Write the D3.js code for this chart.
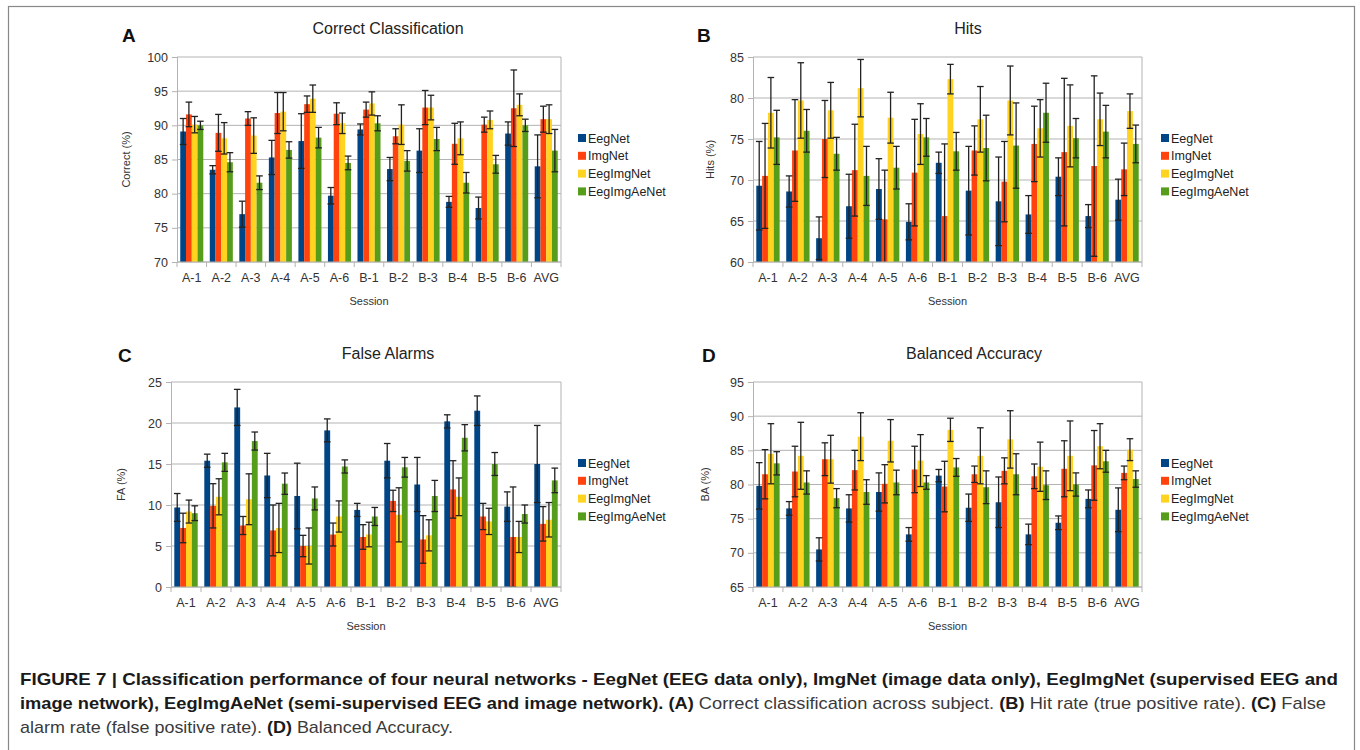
<!DOCTYPE html>
<html>
<head>
<meta charset="utf-8">
<script src="https://cdn.jsdelivr.net/npm/d3@7"></script>
<style>
  body { margin: 0; background: #fff; }
  svg { display: block; font-family: "Liberation Sans", Arial, sans-serif; }
</style>
</head>
<body>
<svg id="fig" width="1360" height="750"></svg>
<script>
// sessions and series
var sessions = ['A-1','A-2','A-3','A-4','A-5','A-6','B-1','B-2','B-3','B-4','B-5','B-6','AVG'];
var seriesNames = ['EegNet','ImgNet','EegImgNet','EegImgAeNet'];
var seriesColors = ['#004586','#ff420e','#ffd320','#579d1c'];

// (A) correct classification, mean and error
var correctEegNet      = [89.1, 83.5, 77.0, 85.3, 87.7, 79.7, 89.4, 83.6, 86.3, 78.8, 77.9, 88.8, 84.0];
var correctEegNetErr   = [1.9, 0.6, 1.9, 2.5, 4.0, 1.2, 0.8, 1.7, 3.2, 0.8, 1.6, 1.7, 4.6];
var correctImgNet      = [91.6, 88.9, 91.0, 91.8, 93.1, 91.7, 92.3, 88.4, 92.6, 87.3, 90.1, 92.5, 90.9];
var correctImgNetErr   = [1.8, 2.7, 1.0, 3.0, 1.2, 1.6, 1.1, 1.1, 2.5, 3.0, 1.1, 5.6, 1.9];
var correctEegImg      = [90.1, 88.1, 88.5, 92.0, 93.9, 90.3, 93.2, 90.1, 92.6, 88.1, 90.8, 93.0, 90.9];
var correctEegImgErr   = [1.2, 2.3, 2.6, 2.8, 2.0, 1.5, 1.7, 2.9, 1.8, 2.4, 1.3, 1.6, 2.1];
var correctEegImgAe    = [90.0, 84.6, 81.6, 86.4, 88.2, 84.5, 90.3, 84.8, 88.0, 81.6, 84.3, 90.0, 86.3];
var correctEegImgAeErr = [0.6, 1.4, 1.0, 1.2, 1.5, 1.0, 1.1, 1.5, 1.7, 1.5, 1.3, 0.9, 3.1];

// (B) hits
var hitsEegNet      = [69.3, 68.6, 62.9, 66.8, 68.9, 64.9, 72.1, 68.7, 67.4, 65.8, 70.4, 65.6, 67.6];
var hitsEegNetErr   = [5.4, 1.9, 2.6, 3.9, 3.7, 2.2, 1.3, 5.4, 5.4, 2.3, 2.3, 1.4, 2.5];
var hitsImgNet      = [70.5, 73.6, 75.0, 71.2, 65.2, 70.9, 65.6, 73.6, 69.8, 74.4, 73.4, 71.7, 71.3];
var hitsImgNetErr   = [6.4, 6.2, 4.7, 5.6, 6.0, 6.5, 8.8, 3.0, 4.9, 4.6, 9.0, 11.0, 3.2];
var hitsEegImg      = [78.2, 79.7, 78.5, 81.2, 77.6, 75.6, 82.3, 77.4, 79.7, 76.3, 76.6, 77.4, 78.4];
var hitsEegImgErr   = [4.3, 4.6, 3.4, 3.5, 3.1, 3.7, 1.8, 4.0, 4.2, 3.5, 5.0, 3.2, 2.1];
var hitsEegImgAe    = [75.2, 76.0, 73.2, 70.5, 71.5, 75.2, 73.5, 73.9, 74.2, 78.2, 75.1, 75.9, 74.4];
var hitsEegImgAeErr = [3.3, 2.6, 2.0, 3.6, 2.6, 2.3, 2.3, 4.0, 5.2, 3.6, 2.4, 3.2, 2.3];

// (C) false alarms
var faEegNet      = [9.7, 15.4, 21.9, 13.6, 11.1, 19.1, 9.4, 15.4, 12.5, 20.2, 21.5, 9.8, 15.0];
var faEegNetErr   = [1.7, 0.8, 2.2, 2.7, 4.0, 1.4, 0.8, 2.1, 3.3, 0.8, 1.8, 1.8, 4.7];
var faImgNet      = [7.2, 9.9, 7.5, 6.9, 5.0, 6.4, 6.1, 10.5, 5.8, 11.9, 8.6, 6.1, 7.7];
var faImgNetErr   = [1.8, 2.7, 1.1, 3.1, 1.3, 1.4, 1.5, 1.3, 2.9, 3.5, 1.6, 6.1, 2.1];
var faEegImg      = [9.2, 11.0, 10.7, 7.2, 5.0, 8.6, 6.4, 8.8, 6.3, 11.0, 8.0, 6.1, 8.2];
var faEegImgErr   = [1.4, 2.2, 3.1, 3.0, 2.2, 1.9, 1.5, 3.3, 1.9, 2.3, 1.6, 1.9, 2.1];
var faEegImgAe    = [9.0, 15.2, 17.8, 12.6, 10.8, 14.7, 8.6, 14.6, 11.1, 18.2, 15.0, 8.9, 13.0];
var faEegImgAeErr = [0.9, 1.1, 1.1, 1.3, 1.4, 0.8, 1.1, 1.2, 1.9, 1.6, 1.4, 1.1, 1.5];

// (D) balanced accuracy
var baEegNet      = [79.8, 76.5, 70.5, 76.5, 78.9, 72.7, 81.3, 76.6, 77.4, 72.7, 74.4, 77.9, 76.3];
var baEegNetErr   = [3.4, 1.0, 1.7, 2.0, 2.8, 1.0, 0.9, 2.0, 3.7, 1.5, 1.0, 1.3, 3.2];
var baImgNet      = [81.5, 81.9, 83.7, 82.1, 80.1, 82.2, 79.7, 81.5, 82.0, 81.2, 82.3, 82.8, 81.7];
var baImgNetErr   = [3.6, 3.7, 2.4, 2.9, 2.8, 3.4, 3.7, 1.2, 1.9, 1.8, 4.1, 5.1, 1.0];
var baEegImg      = [84.5, 84.2, 83.7, 87.0, 86.4, 83.5, 88.0, 84.2, 86.6, 82.6, 84.2, 85.6, 85.1];
var baEegImgErr   = [4.4, 4.9, 3.5, 3.5, 3.1, 3.8, 1.7, 4.1, 4.2, 3.6, 5.1, 3.3, 1.6];
var baEegImgAe    = [83.1, 80.3, 78.0, 78.9, 80.3, 80.3, 82.5, 79.6, 81.5, 79.9, 80.0, 83.4, 80.8];
var baEegImgAeErr = [1.7, 1.7, 1.4, 1.8, 1.8, 1.0, 1.3, 2.4, 3.0, 2.1, 1.7, 1.6, 1.2];

// panel layout
var panels = [
  { letter:'A', title:'Correct Classification', ylabel:'Correct (%)', domain:[70,100], step:5,
    x0:177, x1:561, y0:57, y1:262, titleX:388, titleY:34, letterX:122, letterY:42, ylabX:130, legX:578, legY:138,
    means:[correctEegNet, correctImgNet, correctEegImg, correctEegImgAe],
    errs:[correctEegNetErr, correctImgNetErr, correctEegImgErr, correctEegImgAeErr] },
  { letter:'B', title:'Hits', ylabel:'Hits (%)', domain:[60,85], step:5,
    x0:753, x1:1142, y0:57, y1:262, titleX:968, titleY:34, letterX:697, letterY:42, ylabX:714, legX:1161, legY:138,
    means:[hitsEegNet, hitsImgNet, hitsEegImg, hitsEegImgAe],
    errs:[hitsEegNetErr, hitsImgNetErr, hitsEegImgErr, hitsEegImgAeErr] },
  { letter:'C', title:'False Alarms', ylabel:'FA (%)', domain:[0,25], step:5,
    x0:171, x1:561, y0:382, y1:587, titleX:388, titleY:359, letterX:118, letterY:362, ylabX:125, legX:578, legY:463,
    means:[faEegNet, faImgNet, faEegImg, faEegImgAe],
    errs:[faEegNetErr, faImgNetErr, faEegImgErr, faEegImgAeErr] },
  { letter:'D', title:'Balanced Accuracy', ylabel:'BA (%)', domain:[65,95], step:5,
    x0:753, x1:1142, y0:382, y1:587, titleX:974, titleY:359, letterX:702, letterY:362, ylabX:709, legX:1161, legY:463,
    means:[baEegNet, baImgNet, baEegImg, baEegImgAe],
    errs:[baEegNetErr, baImgNetErr, baEegImgErr, baEegImgAeErr] }
];

var svg = d3.select('#fig');

// outer frame (bottom edge runs off the page)
svg.append('rect')
  .attr('x', 8.5).attr('y', 6.5)
  .attr('width', 1346).attr('height', 760)
  .attr('fill', 'none').attr('stroke', '#888').attr('stroke-width', 1.2);

panels.forEach(function(p, pi){
  var g = svg.append('g');

  var x = d3.scaleBand().domain(sessions).range([p.x0, p.x1])
    .paddingInner(0.22).paddingOuter(0.11);
  var xs = d3.scaleBand().domain(d3.range(seriesNames.length)).range([0, x.bandwidth()]);
  var y = d3.scaleLinear().domain(p.domain).range([p.y1, p.y0]);
  var yticks = d3.range(p.domain[0], p.domain[1] + 0.01, p.step);

  // gridlines
  g.append('g').selectAll('line').data(yticks).join('line')
    .attr('x1', p.x0).attr('x2', p.x1)
    .attr('y1', function(d){ return y(d); }).attr('y2', function(d){ return y(d); })
    .attr('stroke', '#b3b3b3').attr('stroke-width', 1);

  // right frame edge
  g.append('line').attr('x1', p.x1).attr('x2', p.x1).attr('y1', p.y0).attr('y2', p.y1)
    .attr('stroke', '#b3b3b3');

  // bars
  var clipId = 'clip' + pi;
  svg.append('clipPath').attr('id', clipId).append('rect')
    .attr('x', p.x0).attr('y', p.y0).attr('width', p.x1 - p.x0).attr('height', p.y1 - p.y0);

  var rows = [];
  p.means.forEach(function(arr, si){
    arr.forEach(function(v, ci){
      rows.push({ s: si, c: sessions[ci], v: v, e: p.errs[si][ci] });
    });
  });

  var plot = g.append('g').attr('clip-path', 'url(#' + clipId + ')');
  plot.selectAll('rect.bar').data(rows).join('rect')
    .attr('class', 'bar')
    .attr('x', function(d){ return x(d.c) + xs(d.s); })
    .attr('width', xs.bandwidth())
    .attr('y', function(d){ return y(d.v); })
    .attr('height', function(d){ return y(p.domain[0]) - y(d.v); })
    .attr('fill', function(d){ return seriesColors[d.s]; });

  // error bars
  var capW = 3.3;
  var eg = plot.selectAll('g.err').data(rows).join('g').attr('class', 'err')
    .attr('stroke', '#222').attr('stroke-width', 1.3);
  eg.append('line')
    .attr('x1', function(d){ return x(d.c) + xs(d.s) + xs.bandwidth()/2; })
    .attr('x2', function(d){ return x(d.c) + xs(d.s) + xs.bandwidth()/2; })
    .attr('y1', function(d){ return y(d.v + d.e); })
    .attr('y2', function(d){ return y(d.v - d.e); });
  [1, -1].forEach(function(sign){
    eg.append('line')
      .attr('x1', function(d){ return x(d.c) + xs(d.s) + xs.bandwidth()/2 - capW; })
      .attr('x2', function(d){ return x(d.c) + xs(d.s) + xs.bandwidth()/2 + capW; })
      .attr('y1', function(d){ return y(d.v + sign*d.e); })
      .attr('y2', function(d){ return y(d.v + sign*d.e); });
  });

  // y axis
  var yAxis = d3.axisLeft(y).tickValues(yticks).tickSize(5).tickPadding(4).tickFormat(d3.format('d'));
  var ya = g.append('g').attr('transform', 'translate(' + p.x0 + ',0)').call(yAxis);
  ya.select('.domain').attr('stroke', '#b3b3b3');
  ya.selectAll('.tick line').attr('stroke', '#b3b3b3');
  ya.selectAll('text').attr('fill', '#333').style('font-size', '12.5px')
    .style('font-family', '"Liberation Sans", Arial, sans-serif');

  // x axis, ticks on the band edges
  g.append('line').attr('x1', p.x0).attr('x2', p.x1).attr('y1', p.y1).attr('y2', p.y1)
    .attr('stroke', '#b3b3b3');
  var edges = d3.range(sessions.length + 1).map(function(i){ return p.x0 + i*x.step(); });
  g.append('g').selectAll('line').data(edges).join('line')
    .attr('x1', function(d){ return d; }).attr('x2', function(d){ return d; })
    .attr('y1', p.y1).attr('y2', p.y1 + 5)
    .attr('stroke', '#b3b3b3');
  g.append('g').selectAll('text').data(sessions).join('text')
    .attr('x', function(d){ return x(d) + x.bandwidth()/2; })
    .attr('y', p.y1 + 20)
    .attr('text-anchor', 'middle')
    .attr('fill', '#333').style('font-size', '12.5px')
    .text(function(d){ return d; });

  // axis titles
  g.append('text')
    .attr('x', (p.x0 + p.x1)/2).attr('y', p.y1 + 43)
    .attr('text-anchor', 'middle').attr('fill', '#333').style('font-size', '11px')
    .text('Session');
  g.append('text')
    .attr('transform', 'translate(' + p.ylabX + ',' + ((p.y0 + p.y1)/2) + ') rotate(-90)')
    .attr('text-anchor', 'middle').attr('fill', '#333').style('font-size', '11px')
    .text(p.ylabel);

  // panel title and letter
  g.append('text').attr('x', p.titleX).attr('y', p.titleY)
    .attr('text-anchor', 'middle').attr('fill', '#222').style('font-size', '16px')
    .text(p.title);
  g.append('text').attr('x', p.letterX).attr('y', p.letterY)
    .attr('fill', '#111').style('font-size', '19px').style('font-weight', 'bold')
    .text(p.letter);

  // legend
  var lg = g.append('g').selectAll('g').data(seriesNames).join('g')
    .attr('transform', function(d, i){ return 'translate(' + p.legX + ',' + (p.legY + i*17.8) + ')'; });
  lg.append('rect').attr('x', 0).attr('y', -4).attr('width', 8).attr('height', 8)
    .attr('fill', function(d, i){ return seriesColors[i]; });
  lg.append('text').attr('x', 10).attr('y', 4.5)
    .attr('fill', '#222').style('font-size', '12.5px')
    .text(function(d){ return d; });
});

// caption
var captionLines = [
  { y: 685, width: 1318, parts: [
    ['b', 'FIGURE 7 | Classification performance of four neural networks - EegNet (EEG data only), ImgNet (image data only), EegImgNet (supervised EEG and'] ] },
  { y: 709, width: 1306, parts: [
    ['b', 'image network), EegImgAeNet (semi-supervised EEG and image network). (A)'],
    ['r', ' Correct classification across subject. '], ['b', '(B)'],
    ['r', ' Hit rate (true positive rate). '], ['b', '(C)'], ['r', ' False'] ] },
  { y: 733, width: 433, parts: [
    ['r', 'alarm rate (false positive rate). '], ['b', '(D)'], ['r', ' Balanced Accuracy.'] ] }
];

captionLines.forEach(function(line){
  var t = svg.append('text')
    .attr('x', 20).attr('y', line.y)
    .attr('textLength', line.width).attr('lengthAdjust', 'spacingAndGlyphs')
    .style('font-family', '"Liberation Sans Narrow", "Liberation Sans", Arial, sans-serif')
    .style('font-size', '17px')
    .attr('xml:space', 'preserve');
  line.parts.forEach(function(part){
    t.append('tspan')
      .attr('fill', part[0] === 'b' ? '#1a1a1a' : '#3a3a3a')
      .style('font-weight', part[0] === 'b' ? 'bold' : 'normal')
      .text(part[1]);
  });
});
</script>
</body>
</html>
